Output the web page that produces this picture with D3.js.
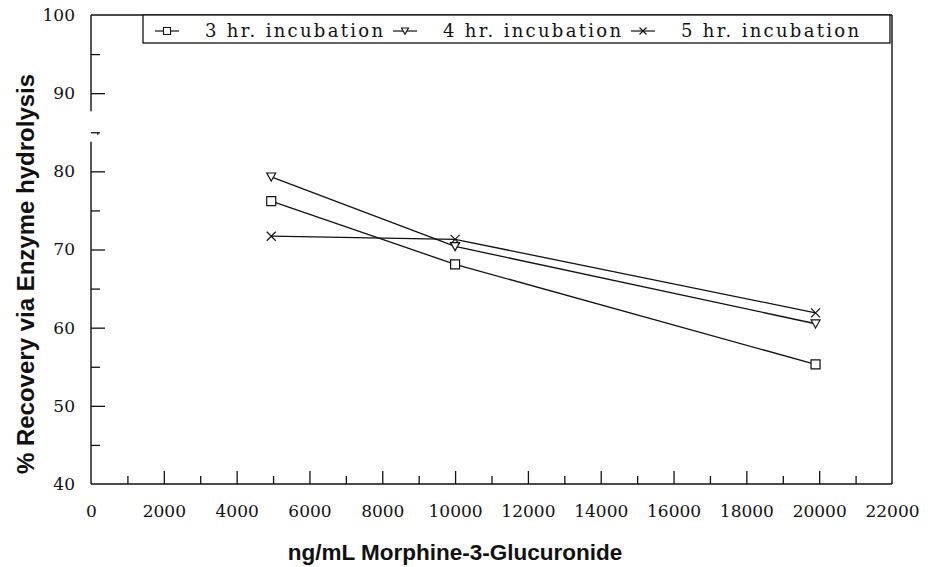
<!DOCTYPE html>
<html>
<head>
<meta charset="utf-8">
<script src="https://cdn.jsdelivr.net/npm/d3@7"></script>
<style>
  html, body { margin: 0; padding: 0; background: #fff; }
  svg { display: block; }
</style>
</head>
<body>
<svg id="chart" width="930" height="567"></svg>
<script>
// ---- data ----
const concentrations = [4950, 10000, 19900];           // ng/mL
const seriesNames = ["3 hr. incubation", "4 hr. incubation", "5 hr. incubation"];
const recovery3hr = [76.2, 68.1, 55.3];
const recovery4hr = [79.3, 70.4, 60.5];
const recovery5hr = [71.7, 71.3, 61.9];
const xTickValues = [0, 2000, 4000, 6000, 8000, 10000, 12000, 14000, 16000, 18000, 20000, 22000];
const xMinorTicks = [1000, 3000, 5000, 7000, 9000, 11000, 13000, 15000, 17000, 19000, 21000];
const yTickValues = [40, 50, 60, 70, 80, 90, 100];
const yMinorTicks = [45, 55, 65, 75, 85, 95];
const xTitle = "ng/mL Morphine-3-Glucuronide";
const yTitle = "% Recovery via Enzyme hydrolysis";

// ---- layout ----
const L = 91, R = 892, T = 15, B = 484;
const svg = d3.select("#chart");
const x = d3.scaleLinear().domain([0, 22000]).range([L, R]);
const y = d3.scaleLinear().domain([40, 100]).range([B, T]);

const serifFont = "'DejaVu Serif', serif";
const sansFont = "'Liberation Sans', Arial, sans-serif";

// marker shapes
const sqType = { draw(ctx, s) { const h = s / 2; ctx.moveTo(-h, -h); ctx.lineTo(h, -h); ctx.lineTo(h, h); ctx.lineTo(-h, h); ctx.closePath(); } };
const triType = { draw(ctx, s) { const h = s / 2; ctx.moveTo(-h, -h * 0.85); ctx.lineTo(h, -h * 0.85); ctx.lineTo(0, h * 0.95); ctx.closePath(); } };
const xType = { draw(ctx, s) { const h = s / 2; ctx.moveTo(-h, -h); ctx.lineTo(h, h); ctx.moveTo(-h, h); ctx.lineTo(h, -h); } };
const markerTypes = [sqType, triType, xType];
const allSeries = [recovery3hr, recovery4hr, recovery5hr];

// ---- axes ----
const gx = svg.append("g").attr("transform", `translate(0,${B})`)
  .call(d3.axisBottom(x).tickValues(xTickValues).tickSize(-13).tickPadding(21).tickFormat(d3.format("d")));
gx.select(".domain").remove();
gx.selectAll("text").attr("font-family", serifFont).attr("font-size", 17).attr("fill", "#111");
gx.selectAll("line").attr("stroke", "#111").attr("stroke-width", 1.3);

const gxm = svg.append("g").attr("transform", `translate(0,${B})`)
  .call(d3.axisBottom(x).tickValues(xMinorTicks).tickSize(-8).tickFormat(""));
gxm.select(".domain").remove();
gxm.selectAll("line").attr("stroke", "#111").attr("stroke-width", 1.3);

const gy = svg.append("g").attr("transform", `translate(${L},0)`)
  .call(d3.axisLeft(y).tickValues(yTickValues).tickSize(-14).tickPadding(16).tickFormat(d3.format("d")));
gy.select(".domain").remove();
gy.selectAll("text").attr("font-family", serifFont).attr("font-size", 17).attr("fill", "#111");
gy.selectAll("line").attr("stroke", "#111").attr("stroke-width", 1.3);
// the 40 and 100 ticks coincide with the frame
gy.selectAll(".tick").filter(d => d === 40 || d === 100).select("line").remove();
gx.selectAll(".tick").filter(d => d === 0 || d === 22000).select("line").remove();

const gym = svg.append("g").attr("transform", `translate(${L},0)`)
  .call(d3.axisLeft(y).tickValues(yMinorTicks).tickSize(-9).tickFormat(""));
gym.select(".domain").remove();
gym.selectAll("line").attr("stroke", "#111").attr("stroke-width", 1.3);

// frame (left axis has a small break like the scanned original)
const frame = svg.append("g").attr("stroke", "#111").attr("stroke-width", 1.4).attr("fill", "none");
frame.append("line").attr("x1", L).attr("x2", R).attr("y1", B).attr("y2", B);
frame.append("line").attr("x1", L).attr("x2", R).attr("y1", T).attr("y2", T);
frame.append("line").attr("x1", R).attr("x2", R).attr("y1", T).attr("y2", B);
frame.append("line").attr("x1", L).attr("x2", L).attr("y1", T).attr("y2", y(87.7));
frame.append("line").attr("x1", L).attr("x2", L).attr("y1", y(83.8)).attr("y2", B);
svg.append("rect").attr("x", L + 6).attr("y", y(84.8) - 1).attr("width", 1.5).attr("height", 2).attr("fill", "#333");

// ---- series ----
const line = d3.line().x((d, i) => x(concentrations[i])).y(d => y(d));
allSeries.forEach((vals, k) => {
  svg.append("path").datum(vals).attr("d", line)
    .attr("fill", "none").attr("stroke", "#111").attr("stroke-width", 1.3);
  svg.selectAll(null).data(vals).enter().append("path")
    .attr("transform", (d, i) => `translate(${x(concentrations[i])},${y(d)})`)
    .attr("d", d3.symbol().type(markerTypes[k]).size(9))
    .attr("fill", k === 2 ? "none" : "#fff").attr("stroke", "#111").attr("stroke-width", 1.2);
});

// ---- legend ----
const lg = svg.append("g");
lg.append("rect").attr("x", 143).attr("y", T).attr("width", 747).attr("height", 28)
  .attr("fill", "#fff").attr("stroke", "#111").attr("stroke-width", 1.3);
const legSym = [167, 405, 643];
const legText = [205, 443, 681];
seriesNames.forEach((name, k) => {
  lg.append("line").attr("x1", legSym[k] - 12).attr("x2", legSym[k] + 12)
    .attr("y1", 31).attr("y2", 31).attr("stroke", "#111").attr("stroke-width", 1.2);
  lg.append("path").attr("transform", `translate(${legSym[k]},31)`)
    .attr("d", d3.symbol().type(markerTypes[k]).size(7))
    .attr("fill", "#fff").attr("stroke", "#111").attr("stroke-width", 1.1);
  lg.append("text").attr("x", legText[k]).attr("y", 37)
    .attr("font-family", serifFont).attr("font-size", 18).attr("letter-spacing", 2.3)
    .attr("fill", "#111").text(name);
});

// ---- titles ----
svg.append("text").attr("x", 455).attr("y", 560).attr("text-anchor", "middle")
  .attr("font-family", sansFont).attr("font-weight", "bold").attr("font-size", 22.5)
  .attr("fill", "#111").text(xTitle);
svg.append("text").attr("transform", `translate(34,274) rotate(-90)`)
  .attr("text-anchor", "middle")
  .attr("font-family", sansFont).attr("font-weight", "bold").attr("font-size", 24)
  .attr("fill", "#111").text(yTitle);
</script>
</body>
</html>
